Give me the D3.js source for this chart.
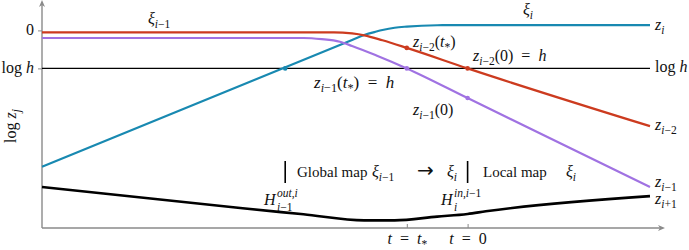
<!DOCTYPE html>
<html>
<head>
<meta charset="utf-8">
<script src="https://cdn.jsdelivr.net/npm/d3@7"></script>
</head>
<body style="margin:0;background:#fff">
<svg></svg>
<script>
const width = 689
const height = 250

// time axis: t = t* is -1, t = 0 is 0 ; log z axis: log h is -1
const tGrid = [-7, -3.7, -2.7, -2.4, -2.2, -2.1, -1.9, -1.7, -1.5, -1.4, -1.2, -1.1, -1, -0.7, -0.5, 0, 0.3, 3]
const blueVals   = [-3.59, null, null, null, null, null, -0.25, -0.12, -0.03, 0.01, 0.07, null, 0.1, null, 0.135, 0.14, null, 0.14]
const redVals    = [-0.05, null, null, null, -0.05, null, -0.08, -0.13, null, -0.26, null, null, -0.46, null, null, -1.0, null, -2.52]
const purpleVals = [-0.2, null, -0.2, -0.23, null, -0.3, -0.41, null, -0.66, null, null, null, -1.0, null, null, -1.78, null, -4.12]
const blackVals  = [-4.12, -4.68, -4.84, null, null, null, null, -5.0, null, null, -5.0, null, null, null, -4.9, -4.83, -4.76, -4.36]
const logH = -1

const series = [
  {name: "z_{i}",    values: blueVals,   color: "#1889b1", w: 2.2, dy: 5},
  {name: "z_{i−2}",  values: redVals,    color: "#cc3b1f", w: 2.2, dy: 4},
  {name: "z_{i−1}",  values: purpleVals, color: "#a072e2", w: 2.2, dy: 0},
  {name: "z_{i+1}",  values: blackVals,  color: "#000",    w: 2.6, dy: 8}
]

// marked points on the curves
const marks = [
  {t: -3, v: logH, color: "#1889b1"},
  {t: -1, v: -0.46, color: "#cc3b1f"},
  {t: 0,  v: logH, color: "#cc3b1f"},
  {t: -1, v: logH, color: "#a072e2"},
  {t: 0,  v: -1.78, color: "#a072e2"}
]

const xTicks = [-1, 0]
const xTickLabels = ["t = t_{*}", "t = 0"]
const yTicks = [0, logH]
const yTickLabels = ["0", "\\r{log} h"]

const FONT = "Liberation Serif"
const EQ = "\u2002=\u2002"

const svg = d3.select('svg')
  .attr('width', width)
  .attr('height', height)
  .attr('font-family', FONT)

const x = d3.scaleLinear().domain([-7, 3]).range([42, 650])
const y = d3.scaleLinear().domain([-5.2, 0.8]).range([228, 0])

// tiny tex-ish writer: _{..} sub, ^{..} sup, \r{..} roman; letters italic
function tex(sel, str, size) {
  const runs = []
  function walk(s, lv, roman) {
    let k = 0
    while (k < s.length) {
      const c = s[k]
      if ((c === '_' || c === '^') && s[k + 1] === '{') {
        const end = s.indexOf('}', k)
        walk(s.slice(k + 2, end), c === '_' ? -1 : 1, roman)
        k = end + 1
      } else if (c === '\\' && s[k + 1] === 'r' && s[k + 2] === '{') {
        const end = s.indexOf('}', k)
        walk(s.slice(k + 3, end), lv, true)
        k = end + 1
      } else {
        const it = !roman && /[a-zA-Zξ]/.test(c)
        const last = runs[runs.length - 1]
        if (last && last.it === it && last.lv === lv) last.t += c
        else runs.push({t: c, it: it, lv: lv})
        k++
      }
    }
  }
  walk(str, 0, false)
  sel.attr('font-family', FONT).attr('fill', '#111')
  let shift = 0
  runs.forEach(r => {
    const s = r.lv === -1 ? 4 : r.lv === 1 ? -6 : 0
    sel.append('tspan')
      .attr('dy', s - shift)
      .attr('font-family', FONT)
      .attr('font-style', r.it ? 'italic' : 'normal')
      .attr('font-size', r.lv === 0 ? size : size * 0.72)
      .text(r.t)
    shift = s
  })
  return sel
}

function label(str, px, py, size, anchor) {
  const t = svg.append('text').attr('x', px).attr('y', py)
    .attr('text-anchor', anchor || 'start')
  return tex(t, str, size || 16)
}

// axes
const gray = "#8a8a8a"
const xAxis = svg.append('g')
  .attr('transform', `translate(0,${y(-5.2)})`)
  .call(d3.axisBottom(x).tickValues(xTicks).tickSizeInner(-4).tickSizeOuter(0).tickFormat(''))
xAxis.attr('font-family', FONT)
xAxis.select('.domain').remove()
xAxis.selectAll('.tick line').attr('stroke', gray)
xAxis.selectAll('.tick').append('text')
  .attr('y', 16)
  .attr('text-anchor', 'middle')
  .each(function(d, i) { tex(d3.select(this), xTickLabels[i].replace(' = ', EQ), 16) })

const yAxis = svg.append('g')
  .attr('transform', `translate(${x(-7)},0)`)
  .call(d3.axisLeft(y).tickValues(yTicks).tickSizeInner(4).tickSizeOuter(0).tickFormat(''))
yAxis.attr('font-family', FONT)
yAxis.select('.domain').remove()
yAxis.selectAll('.tick line').attr('stroke', gray)
yAxis.selectAll('.tick').append('text')
  .attr('x', -8)
  .attr('y', 4)
  .attr('text-anchor', 'end')
  .each(function(d, i) { tex(d3.select(this), yTickLabels[i], 16) })

svg.append('line').attr('x1', x(-7)).attr('x2', 661).attr('y1', y(-5.2)).attr('y2', y(-5.2))
  .attr('stroke', gray).attr('stroke-width', 1.4)
svg.append('line').attr('x1', x(-7)).attr('x2', x(-7)).attr('y1', y(-5.2)).attr('y2', 3)
  .attr('stroke', gray).attr('stroke-width', 1.4)
svg.append('path').attr('d', `M665,${y(-5.2)} l-7,-3 l2,3 l-2,3 z`).attr('fill', gray)
svg.append('path').attr('d', `M${x(-7)},0 l-3,7 l3,-2 l3,2 z`).attr('fill', gray)

svg.append('text').attr('transform', 'translate(16,126) rotate(-90)')
  .attr('text-anchor', 'middle')
  .call(t => tex(t, "\\r{log} z_{j}", 16))

// log h line
svg.append('line').attr('x1', x(-7)).attr('x2', x(3)).attr('y1', y(logH)).attr('y2', y(logH))
  .attr('stroke', '#000').attr('stroke-width', 1.4)

// curves
const line = d3.line()
  .defined(d => d[1] != null)
  .x(d => x(d[0]))
  .y(d => y(d[1]))
  .curve(d3.curveMonotoneX)

series.forEach(s => {
  const pts = tGrid.map((t, i) => [t, s.values[i]]).filter(d => d[1] != null)
  svg.append('path')
    .datum(pts)
    .attr('fill', 'none')
    .attr('stroke', s.color)
    .attr('stroke-width', s.w)
    .attr('d', line)
  const last = pts[pts.length - 1]
  label(s.name, x(last[0]) + 5, y(last[1]) + s.dy)
})
label("\\r{log} h", x(3) + 5, y(logH) + 4)

svg.append('g').selectAll('circle')
  .data(marks)
  .enter()
  .append('circle')
  .attr('cx', d => x(d.t))
  .attr('cy', d => y(d.v))
  .attr('r', 2.3)
  .attr('fill', d => d.color)

// annotations
label("ξ_{i−1}", 148, 24)
label("ξ_{i}", 523, 15)
label("z_{i−2}(t_{*})", 413, 47)
label("z_{i−2}(0)" + EQ + "h", 473, 61)
label("z_{i−1}(t_{*})" + EQ + "h", 314, 88, 17)
label("z_{i−1}(0)", 413, 115)

;[-3, 0].forEach(t => {
  svg.append('line').attr('x1', x(t)).attr('x2', x(t)).attr('y1', 161).attr('y2', 183)
    .attr('stroke', '#000').attr('stroke-width', 1.6)
})
label("\\r{Global map}", 297, 177, 15)
label("ξ_{i−1}", 372, 177)
svg.append('text').attr('x', 417).attr('y', 177)
  .attr('font-family', 'DejaVu Sans').attr('font-size', 20).attr('fill', '#111')
  .text("→")
label("ξ_{i}", 447, 177)
label("\\r{Local map}", 483, 177, 15)
label("ξ_{i}", 566, 177)

label("H", 264, 205)
label("^{out,i}", 277, 203)
label("_{i−1}", 277, 207)
label("H", 441, 205)
label("^{in,i−1}", 454, 203)
label("_{i}", 454, 207)
</script>
</body>
</html>
